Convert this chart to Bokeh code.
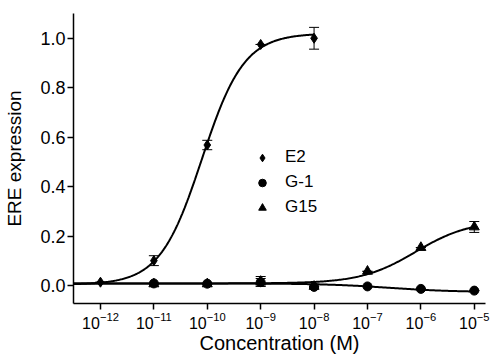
import numpy as np
from bokeh.plotting import figure
from bokeh.models import (Range1d, FixedTicker, Whisker, ColumnDataSource, Legend,
                          LegendItem, TeeHead, NumeralTickFormatter)
from bokeh.embed import file_html
from bokeh.resources import INLINE

# ---- data (log10 of concentration in M) ----
e2_logc = [-12, -11, -10, -9, -8]
e2_val = [0.015, 0.102, 0.569, 0.975, 1.0]
e2_err = [0.0, 0.02, 0.019, 0.0, 0.044]

g1_logc = [-11, -10, -9, -8, -7, -6, -5]
g1_val = [0.010, 0.009, 0.015, -0.004, -0.002, -0.012, -0.019]
g1_err = [0.0, 0.0, 0.015, 0.0, 0.0, 0.0, 0.0]

g15_logc = [-11, -10, -9, -8, -7, -6, -5]
g15_val = [0.008, 0.008, 0.018, -0.002, 0.059, 0.155, 0.238]
g15_err = [0.0, 0.0, 0.02, 0.0, 0.0, 0.0, 0.022]

# 4-parameter logistic fit parameters: bottom, top, logEC50, hill
e2_fit = [0.005, 1.02, -10.1, 1.1]
g1_fit = [0.010, -0.025, -6.6, 0.7]
g15_fit = [0.010, 0.265, -6.1, 0.85]

x_ticks = [-12, -11, -10, -9, -8, -7, -6, -5]
y_ticks = [0.0, 0.2, 0.4, 0.6, 0.8, 1.0]

FONT = "Liberation Sans"


def logistic(x, p):
    b, t, ec, h = p
    return b + (t - b) / (1 + 10 ** ((ec - x) * h))


p = figure(width=491, height=356, output_backend="svg", toolbar_location=None,
           x_axis_type="log",
           x_range=Range1d(10 ** -12.505, 10 ** -4.79), y_range=Range1d(-0.071, 1.1),
           min_border_left=73, min_border_right=6, min_border_top=13, min_border_bottom=52)
p.outline_line_color = None
p.grid.visible = False
p.background_fill_color = "white"

# curves
xc = np.linspace(-12.505, -5, 300)
xe = np.linspace(-12.505, -8, 300)
p.line(10 ** xe, logistic(xe, e2_fit), line_color="black", line_width=2)
p.line(10 ** xc, logistic(xc, g1_fit), line_color="black", line_width=2)
p.line(10 ** xc, logistic(xc, g15_fit), line_color="black", line_width=2)


# error bars + markers
def series(logc, val, err, marker, size):
    conc = [10.0 ** c for c in logc]
    src = ColumnDataSource(dict(x=conc, y=val,
                                up=[v + e for v, e in zip(val, err)],
                                lo=[v - e for v, e in zip(val, err)]))
    w = Whisker(base="x", upper="up", lower="lo", source=src, dimension="height",
                line_color="black", line_width=1,
                upper_head=TeeHead(size=10, line_color="black", line_width=1),
                lower_head=TeeHead(size=10, line_color="black", line_width=1))
    p.add_layout(w)
    return p.scatter("x", "y", source=src, marker=marker, size=size,
                     fill_color="black", line_color="black")


r_g15 = series(g15_logc, g15_val, g15_err, "triangle", 10)
r_g1 = series(g1_logc, g1_val, g1_err, "circle", 9)
r_e2 = series(e2_logc, e2_val, e2_err, "diamond", 10)

legend = Legend(items=[LegendItem(label="E2", renderers=[r_e2]),
                       LegendItem(label="G-1", renderers=[r_g1]),
                       LegendItem(label="G15", renderers=[r_g15])],
                location=(179, 86), padding=0, margin=0, spacing=5,
                glyph_width=20, glyph_height=19, label_height=19, label_standoff=13,
                label_text_font=FONT, label_text_font_size="17px",
                label_text_color="black",
                background_fill_alpha=0, border_line_color=None)
p.add_layout(legend)

# axes
xa = p.xaxis[0]
xa.ticker = FixedTicker(ticks=[10.0 ** t for t in x_ticks])
ya = p.yaxis[0]
ya.ticker = FixedTicker(ticks=y_ticks)
ya.formatter = NumeralTickFormatter(format="0.0")
for ax in (xa, ya):
    ax.axis_line_color = "black"
    ax.axis_line_width = 1.5
    ax.major_tick_line_color = "black"
    ax.major_tick_line_width = 1.5
    ax.major_tick_out = 6
    ax.major_tick_in = 0
    ax.minor_tick_line_color = None
    ax.major_label_text_font = FONT
    ax.major_label_text_color = "black"
    ax.axis_label_text_font = FONT
    ax.axis_label_text_font_style = "normal"
    ax.axis_label_text_color = "black"
xa.axis_label_text_font_size = "20px"
ya.axis_label_text_font_size = "19px"
xa.major_label_text_font_size = "16px"
ya.major_label_text_font_size = "18px"
xa.axis_label = "Concentration (M)"
ya.axis_label = "ERE expression"
xa.major_label_standoff = 2
ya.major_label_standoff = 2
xa.axis_label_standoff = 0
ya.axis_label_standoff = 12

open("out.html", "w").write(file_html(p, INLINE))
